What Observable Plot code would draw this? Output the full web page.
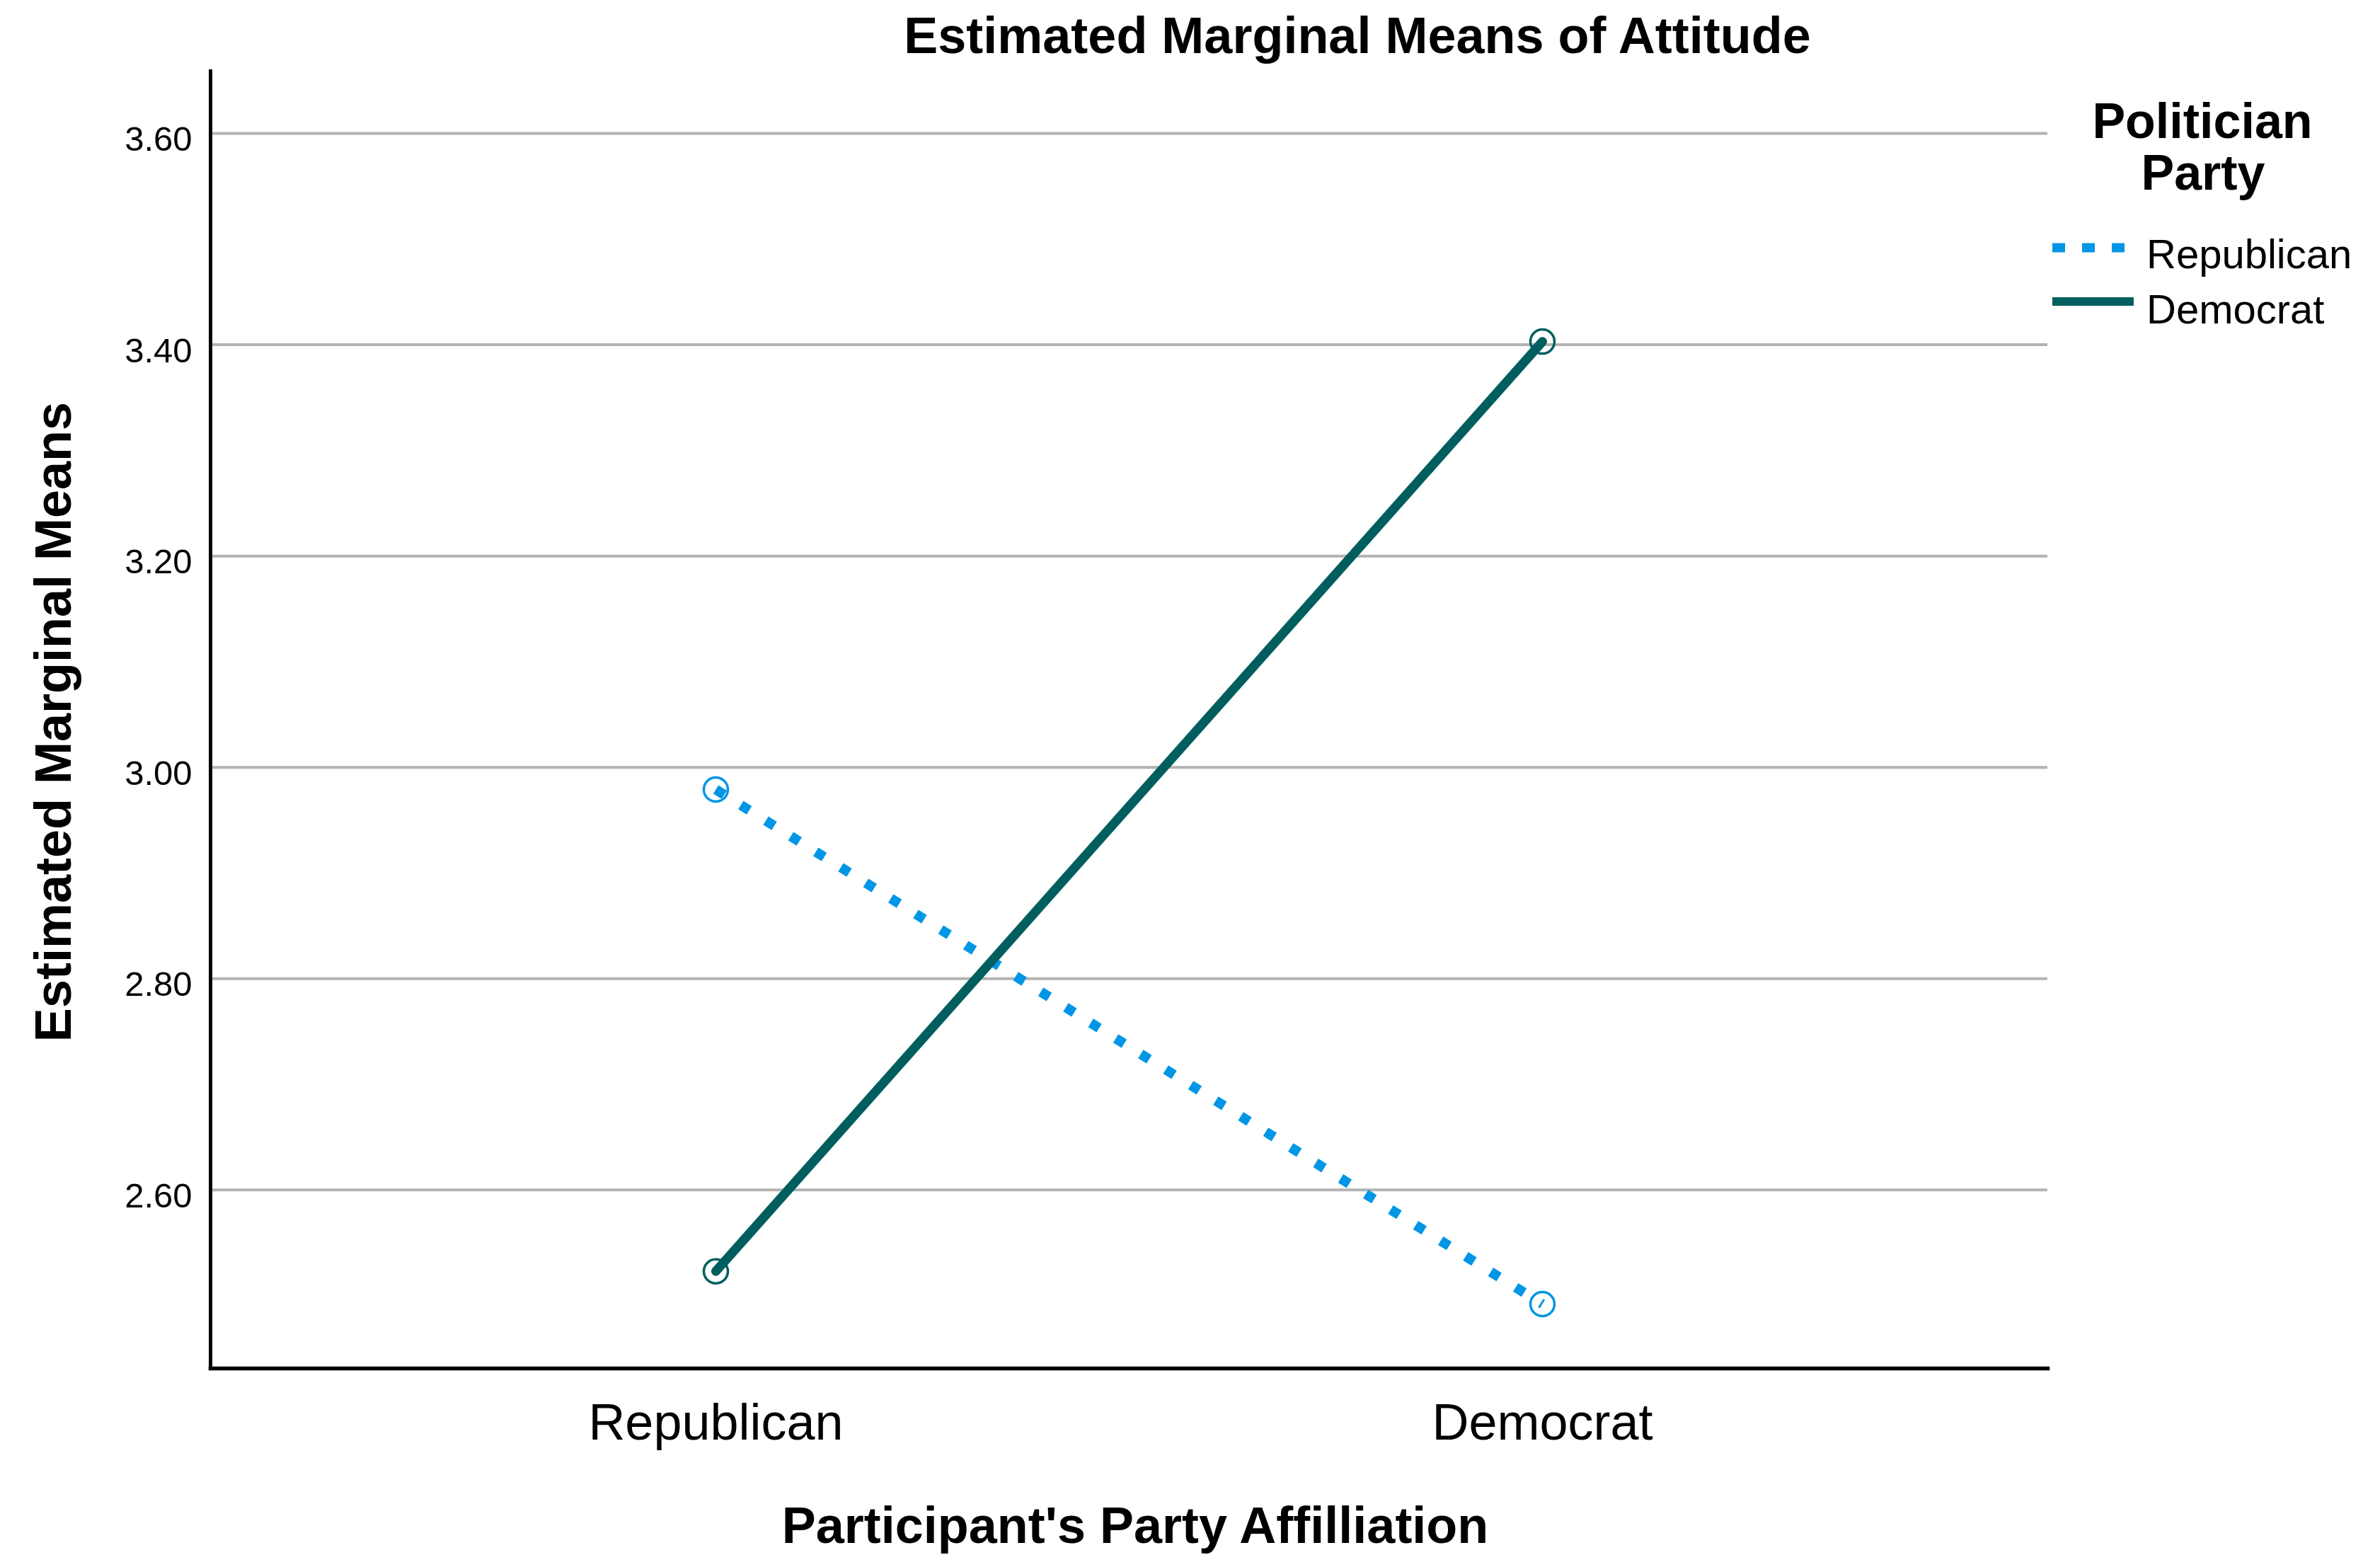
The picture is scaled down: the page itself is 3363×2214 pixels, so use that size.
<!DOCTYPE html>
<html><head><meta charset="utf-8">
<script src="https://cdn.jsdelivr.net/npm/d3@7"></script>
<script src="https://cdn.jsdelivr.net/npm/@observablehq/plot@0.6"></script>
<style>
html,body{margin:0;padding:0;background:#fff;}
#wrap{position:relative;width:3363px;height:2214px;font-family:"Liberation Sans",Arial,sans-serif;}
#wrap svg{position:absolute;left:0;top:0;}
</style></head><body><div id="wrap"></div>
<script>
// ---- data ----
const participantParty = ["Republican", "Democrat"];
const politicianParty = ["Republican", "Democrat"];
const republicanMeans = [2.979, 2.492];   // politician = Republican
const democratMeans = [2.523, 3.403];     // politician = Democrat
const yTicks = [2.60, 2.80, 3.00, 3.20, 3.40, 3.60];
const yDomain = [2.431, 3.659];
const seriesColors = ["#0096e6", "#005f5e"];
const titleText = "Estimated Marginal Means of Attitude";
const xLabel = "Participant's Party Affilliation";
const yLabel = "Estimated Marginal Means";
const legendTitle = ["Politician", "Party"];

const rows = [];
politicianParty.forEach((pol, i) => {
  const vals = i === 0 ? republicanMeans : democratMeans;
  participantParty.forEach((par, j) => rows.push({politician: pol, participant: par, mean: vals[j]}));
});
const repRows = rows.filter(d => d.politician === "Republican");
const demRows = rows.filter(d => d.politician === "Democrat");

const W = 3363, H = 2214;
const chart = Plot.plot({
  width: W, height: H,
  marginLeft: 297, marginRight: 470, marginTop: 100, marginBottom: 281,
  style: {fontFamily: "'Liberation Sans', Arial, sans-serif", background: "white", color: "black", overflow: "visible"},
  x: {type: "point", domain: participantParty, padding: 0.611},
  y: {domain: yDomain},
  marks: [
    Plot.gridY(yTicks, {stroke: "#b3b3b3", strokeOpacity: 1, strokeWidth: 4}),
    Plot.axisY(yTicks, {tickSize: 0, tickPadding: 26, fontSize: 49, dy: 9, tickFormat: d => d.toFixed(2), label: null}),
    Plot.axisX({tickSize: 0, tickPadding: 49, fontSize: 72, label: null}),
    Plot.frame({anchor: "left", stroke: "black", strokeWidth: 5}),
    Plot.frame({anchor: "bottom", stroke: "black", strokeWidth: 5.5}),
    Plot.line(repRows, {x: "participant", y: "mean", stroke: seriesColors[0], strokeWidth: 14, strokeDasharray: "14,27.6", strokeLinecap: "butt"}),
    Plot.line(demRows, {x: "participant", y: "mean", stroke: seriesColors[1], strokeWidth: 13}),
    Plot.dot(repRows, {x: "participant", y: "mean", r: 17, stroke: seriesColors[0], fill: "none", strokeWidth: 3.5}),
    Plot.dot(demRows, {x: "participant", y: "mean", r: 17, stroke: seriesColors[1], fill: "none", strokeWidth: 3.5})
  ]
});
document.getElementById("wrap").appendChild(chart);

// ---- overlay: title, axis labels, legend ----
const ov = d3.select("#wrap").append("svg")
  .attr("width", W).attr("height", H)
  .style("font-family", "'Liberation Sans', Arial, sans-serif")
  .style("pointer-events", "none");
ov.append("text").attr("x", 1918).attr("y", 75).attr("text-anchor", "middle")
  .attr("font-size", 72).attr("font-weight", "bold").text(titleText);
ov.append("text").attr("x", 1604).attr("y", 2180).attr("text-anchor", "middle")
  .attr("font-size", 72).attr("font-weight", "bold").text(xLabel);
ov.append("text").attr("transform", "translate(100,1020) rotate(-90)").attr("text-anchor", "middle")
  .attr("font-size", 72).attr("font-weight", "bold").text(yLabel);

const lg = ov.append("g");
lg.append("text").attr("x", 3112).attr("y", 195).attr("text-anchor", "middle")
  .attr("font-size", 70).attr("font-weight", "bold").text(legendTitle[0]);
lg.append("text").attr("x", 3113).attr("y", 268).attr("text-anchor", "middle")
  .attr("font-size", 70).attr("font-weight", "bold").text(legendTitle[1]);
lg.append("line").attr("x1", 2900).attr("x2", 3002).attr("y1", 350).attr("y2", 350)
  .attr("stroke", seriesColors[0]).attr("stroke-width", 13).attr("stroke-dasharray", "18,24");
lg.append("text").attr("x", 3033).attr("y", 379).attr("font-size", 58).text(politicianParty[0]);
lg.append("line").attr("x1", 2900).attr("x2", 3015).attr("y1", 426).attr("y2", 426)
  .attr("stroke", seriesColors[1]).attr("stroke-width", 12);
lg.append("text").attr("x", 3033).attr("y", 457).attr("font-size", 58).text(politicianParty[1]);
</script></body></html>
